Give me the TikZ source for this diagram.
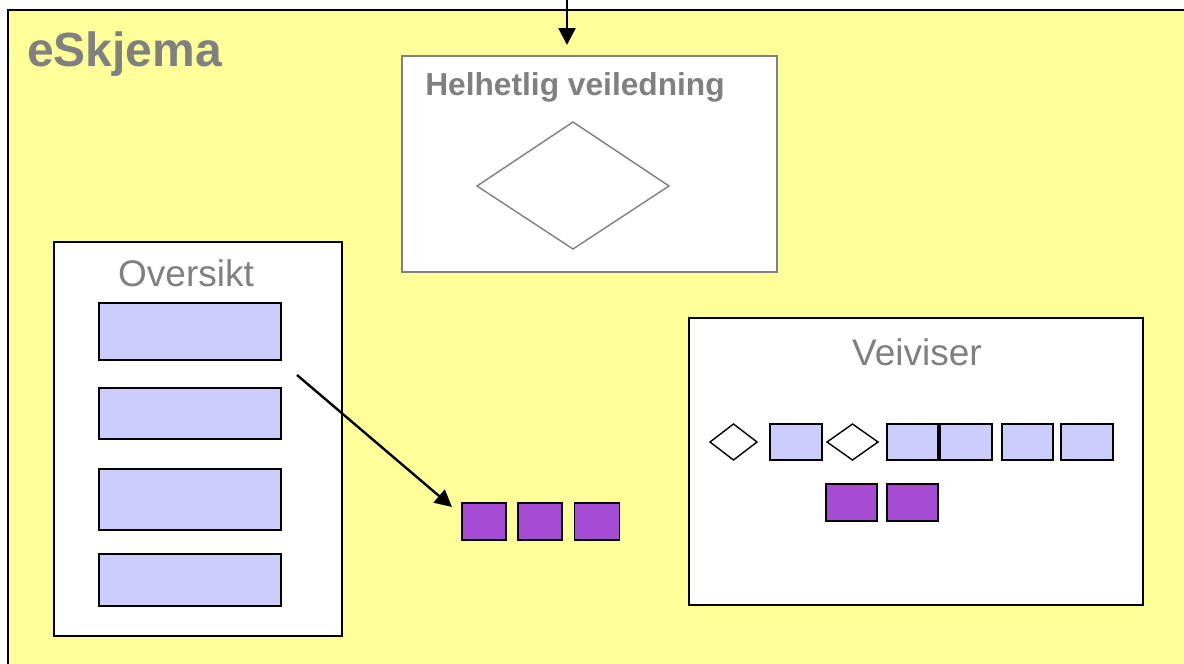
\documentclass[tikz,border=0pt]{standalone}
\usepackage{fontspec}
\setmainfont{Liberation Sans}
\usetikzlibrary{arrows.meta,shapes.geometric}
\definecolor{panel}{HTML}{FFFF99}
\definecolor{lblue}{HTML}{CCCCFF}
\definecolor{violet}{HTML}{A64CD4}
\definecolor{txtgray}{HTML}{808080}
\tikzset{
  frame/.style={draw=black, line width=1.6pt, fill=white},
  grayframe/.style={draw=txtgray, line width=1.6pt, fill=white},
  bar/.style={draw=black, line width=1.6pt, fill=lblue},
  tile/.style={draw=black, line width=1.6pt, fill=violet},
  pane/.style={draw=black, line width=1.6pt, fill=lblue},
  choice/.style={draw=black, line width=1.4pt, fill=white},
  heading/.style={text=txtgray, font=\fontsize{37}{40}\selectfont, inner sep=0pt},
  link/.style={draw=black, line width=2.4pt, -{Triangle[length=17pt,width=17pt]}}
}
\begin{document}
\begin{tikzpicture}[x=1pt,y=-1pt]
\useasboundingbox (0,0) rectangle (1184,664);
% yellow workspace, running off the right and bottom edges
\fill[panel] (8,10) rectangle (1184,664);
\draw[black, line width=2pt] (8,664) -- (8,10) -- (1184,10);
\node[text=txtgray, font=\bfseries\fontsize{48}{52}\selectfont, anchor=west, inner sep=0pt] (title) at (27,54) {eSkjema};

% Helhetlig veiledning
\draw[grayframe] (402,56) rectangle (777,272);
\coordinate (htop) at (567,45);
\coordinate (hsrc) at (567,-2);
\node[text=txtgray, font=\bfseries\fontsize{31.7}{35}\selectfont, inner sep=0pt] (htitle) at (575,87) {Helhetlig veiledning};
\draw[draw=txtgray, line width=1.4pt, fill=white] (477,186) -- (573,122) -- (669,186) -- (573,249) -- cycle;
\draw[link] (hsrc) -- (htop);

% Oversikt
\draw[frame] (54,242) rectangle (342,636);
\node[heading] (otitle) at (186,273) {Oversikt};
\draw[bar] (99,303) rectangle (281,360);
\draw[bar] (99,388) rectangle (281,439);
\draw[bar] (99,469) rectangle (281,530);
\draw[bar] (99,554) rectangle (281,606);

% selected pages
\node[tile, minimum width=44pt, minimum height=37pt, inner sep=0pt] (p1) at (484,521.5) {};
\node[tile, minimum width=44pt, minimum height=37pt, inner sep=0pt] (p2) at (540,521.5) {};
\node[tile, minimum width=45pt, minimum height=37pt, inner sep=0pt] (p3) at (597,521.5) {};
\coordinate (ostart) at (297,375);
\coordinate (oend) at (452,507);
\draw[link] (ostart) -- (oend);

% Veiviser
\draw[frame] (689,318) rectangle (1143,605);
\node[heading] (vtitle) at (917,352) {Veiviser};
\draw[choice] (710,442) -- (733.5,424) -- (757,442) -- (733.5,460) -- cycle;
\draw[pane] (770,424) rectangle (822,460);
\draw[choice] (827,442) -- (852.5,424) -- (878,442) -- (852.5,460) -- cycle;
\draw[pane] (887,424) rectangle (938,460);
\draw[pane] (940,424) rectangle (992,460);
\draw[pane] (1002,424) rectangle (1053,460);
\draw[pane] (1061,424) rectangle (1113,460);
\draw[tile] (826,484) rectangle (877,521);
\draw[tile] (887,484) rectangle (938,521);
\end{tikzpicture}
\end{document}
